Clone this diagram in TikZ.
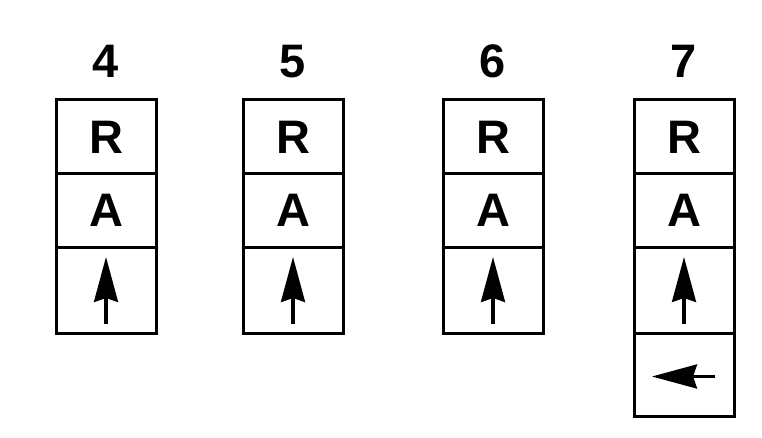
\documentclass[tikz,border=0pt]{standalone}
\usepackage{fontspec}
\setmainfont{Liberation Sans}
\usetikzlibrary{arrows.meta,positioning}

\begin{document}
\begin{tikzpicture}[
  x=1pt,y=1pt,
  node distance=0pt,
  cell/.style={draw,line width=3pt,outer sep=0pt,inner sep=0pt,minimum width=100pt,minimum height=74pt,font=\fontsize{47}{47}\selectfont\bfseries},
  tallcell/.style={cell,minimum height=86pt},
  num/.style={inner sep=0pt,font=\fontsize{47}{47}\selectfont\bfseries},
  arrow/.style={line width=3.2pt,-{Stealth[length=45pt,width=24pt,inset=4pt]}}
]
\useasboundingbox (0,0) rectangle (762,-438);
\foreach \n/\x in {4/106,5/293,6/493,7/684}{
  \node[cell,anchor=north] (r\n) at (\x,-100) {R};
  \node[cell,below=of r\n,minimum height=73pt] (a\n) {A};
  \node[tallcell,below=of a\n] (up\n) {};
  \node[num,above=22pt of r\n] (lbl\n) {\n};
  \draw[arrow] ([yshift=-34pt]up\n.center) -- ([yshift=33pt]up\n.center);
}
% only column 7 has the fourth cell
\node[cell,below=of up7,minimum height=83pt] (left7) {};
\draw[arrow] ([xshift=31pt,yshift=-2pt]left7.center) -- ([xshift=-32pt,yshift=-2pt]left7.center);
\end{tikzpicture}
\end{document}
